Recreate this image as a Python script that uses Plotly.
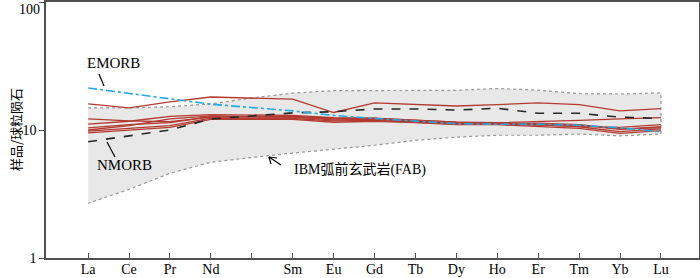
import plotly.graph_objects as go

# ---------------- data ----------------
ree = ["La", "Ce", "Pr", "Nd", "Pm", "Sm", "Eu", "Gd", "Tb", "Dy", "Ho", "Er", "Tm", "Yb", "Lu"]
tick_labels = ["La", "Ce", "Pr", "Nd", "", "Sm", "Eu", "Gd", "Tb", "Dy", "Ho", "Er", "Tm", "Yb", "Lu"]
y_tick_vals = [1, 10, 100]
y_tick_text = ["1", "10", "100"]

fab_upper = [14.9, 14.9, 15.2, 16.0, 17.8, 19.4, 20.3, 20.4, 20.4, 20.4, 21.1, 20.5, 19.2, 19.1, 19.5]
fab_lower = [2.68, 3.44, 4.59, 5.6, 6.1, 6.6, 7.1, 7.6, 8.3, 8.8, 9.1, 9.1, 9.3, 9.0, 9.3]

emorb = [21.3, 19.3, 17.6, 15.9, None, 14.1, 13.0, 12.3, 11.8, 11.2, 11.1, 11.1, 10.9, 10.4, 9.7]
nmorb = [8.1, 9.0, 10.0, 12.2, None, 13.6, 13.9, 14.6, 14.6, 14.3, 14.8, 13.5, 13.5, 12.6, 12.3]

sample_1 = [16.0, 14.9, 16.6, 18.1, None, 17.4, 13.7, 16.3, 15.8, 15.4, 15.8, 16.3, 15.8, 14.1, 14.7]
sample_2 = [12.2, 11.8, 11.6, 12.6, None, 12.8, 12.4, 12.3, 11.9, 11.5, 11.4, 11.6, 11.9, 12.2, 12.5]
sample_3 = [11.1, 11.7, 12.8, 13.2, None, 13.0, 12.5, 12.4, 12.0, 11.5, 11.3, 11.2, 10.9, 10.1, 10.6]
sample_4 = [10.4, 11.0, 11.4, 12.7, None, 12.6, 12.0, 12.1, 11.7, 11.2, 11.2, 11.0, 10.6, 9.7, 10.2]
sample_5 = [9.8, 10.3, 10.8, 12.4, None, 12.3, 11.8, 11.9, 11.5, 11.1, 11.1, 10.9, 10.8, 10.5, 11.0]
sample_6 = [9.5, 10.0, 10.5, 12.1, None, 12.1, 11.5, 11.7, 11.4, 11.0, 11.0, 10.7, 10.3, 9.4, 9.9]
sample_7 = [10.0, 10.8, 12.2, 12.9, None, 12.6, 12.2, 12.3, 11.8, 11.2, 11.1, 11.3, 11.0, 10.2, 10.4]
samples = [sample_1, sample_2, sample_3, sample_4, sample_5, sample_6, sample_7]

# ---------------- figure ----------------
W, H = 700, 278
ML, MR, MT, MB = 46, 1, 2, 20
xs = list(range(len(ree)))

fig = go.Figure()

# FAB field
fig.add_trace(go.Scatter(
    x=xs + xs[::-1], y=fab_upper + fab_lower[::-1],
    fill="toself", fillcolor="rgb(232,232,232)",
    line=dict(color="rgb(150,150,150)", width=1.2, dash="dot"),
    mode="lines", hoverinfo="skip", showlegend=False))

for s in samples:
    fig.add_trace(go.Scatter(x=xs, y=s, mode="lines", connectgaps=True,
                             line=dict(color="rgb(180,58,48)", width=1.3),
                             showlegend=False))

fig.add_trace(go.Scatter(x=xs, y=nmorb, mode="lines", connectgaps=True,
                         line=dict(color="rgb(40,40,40)", width=1.6, dash="dash"),
                         showlegend=False))
fig.add_trace(go.Scatter(x=xs, y=emorb, mode="lines", connectgaps=True,
                         line=dict(color="rgb(40,170,225)", width=1.6, dash="dashdot"),
                         showlegend=False))

# pixel -> paper helpers (layout only)
PW = W - ML - MR
PH = H - MT - MB
def px(x):
    return (x - ML) / PW
def py(y):
    return (H - MB - y) / PH

serif = "Liberation Serif, Times New Roman, serif"
cjk = "Liberation Serif, Noto Sans CJK SC, serif"

annotations = [
    dict(x=px(113), y=py(63), text="EMORB"),
    dict(x=px(124), y=py(165), text="NMORB"),
    dict(x=px(360), y=py(169), text="IBM弧前玄武岩(FAB)", font=dict(family=cjk, size=14, color="black")),
    dict(x=px(15), y=py(130), text="样品/球粒陨石", textangle=-90,
         font=dict(family="Noto Sans CJK SC", size=13, color="black")),
    # top tick label, nudged down so it is not clipped
    dict(x=px(42), y=py(9), text=y_tick_text[-1], xanchor="right",
         font=dict(family=serif, size=14, color="black")),
]
for a in annotations:
    a.setdefault("xanchor", "center")
    a.update(xref="paper", yref="paper", showarrow=False, yanchor="middle")
    a.setdefault("font", dict(family=serif, size=15, color="black"))

segs = [
    ((99, 74), (104, 86)),       # EMORB leader
    ((107, 142), (115, 157)),    # NMORB leader
    ((269, 157), (281, 165)),    # FAB arrow shaft
    ((269, 157), (277, 158)),    # arrow head
    ((269, 157), (271, 164)),
]
shapes = [dict(type="line", xref="paper", yref="paper",
               x0=px(a[0]), y0=py(a[1]), x1=px(b[0]), y1=py(b[1]),
               line=dict(color="black", width=1.2)) for a, b in segs]

fig.update_layout(
    width=W, height=H,
    margin=dict(l=ML, r=MR, t=MT, b=MB),
    paper_bgcolor="white", plot_bgcolor="white",
    annotations=annotations, shapes=shapes,
    showlegend=False,
)
fig.update_xaxes(
    range=[-1.03, 14.93], tickmode="array", tickvals=xs, ticktext=tick_labels,
    ticks="inside", ticklen=5, tickcolor="rgb(80,80,80)",
    showline=True, linecolor="rgb(80,80,80)", linewidth=1.5, mirror=True,
    showgrid=False, zeroline=False, automargin=False,
    ticklabelstandoff=-3,
    tickfont=dict(family=serif, size=14, color="black"),
)
fig.update_yaxes(
    type="log", range=[0, 2], tickmode="array", tickvals=y_tick_vals,
    ticktext=y_tick_text[:-1] + [""],
    ticks="outside", ticklen=5, tickcolor="rgb(80,80,80)",
    showline=True, linecolor="rgb(80,80,80)", linewidth=1.5, mirror=True,
    showgrid=False, zeroline=False, automargin=False,
    tickfont=dict(family=serif, size=14, color="black"),
)

fig.write_html("out.html", config={"displayModeBar": False},
               post_script="document.body.style.margin='0';document.body.style.overflow='hidden';")
